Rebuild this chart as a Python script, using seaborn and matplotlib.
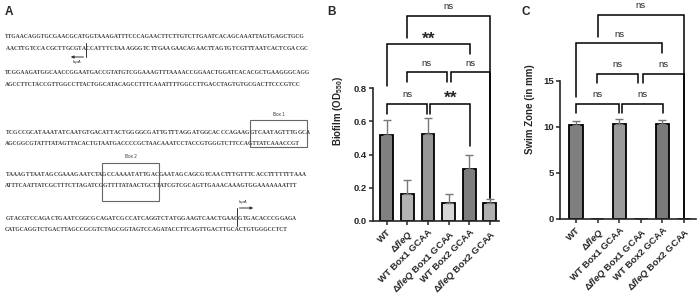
import matplotlib
matplotlib.use("Agg")
import matplotlib.pyplot as plt
import seaborn as sns
from matplotlib.patches import Rectangle

# ---- data ----
strains = ["WT", "ΔfleQ", "WT Box1 GCAA", "ΔfleQ Box1 GCAA", "WT Box2 GCAA", "ΔfleQ Box2 GCAA"]
tick_labels = ["WT", r"Δ$\mathit{fleQ}$", "WT Box1 GCAA", r"Δ$\mathit{fleQ}$ Box1 GCAA",
               "WT Box2 GCAA", r"Δ$\mathit{fleQ}$ Box2 GCAA"]

biofilm = [0.52, 0.165, 0.525, 0.11, 0.31, 0.11]
biofilm_err = [0.09, 0.08, 0.095, 0.05, 0.09, 0.02]
biofilm_colors = ["#808080", "#b3b3b3", "#969696", "#d6d6d6", "#7d7d7d", "#b0b0b0"]

swim = [10.2, 0.0, 10.3, 0.0, 10.3, 0.0]
swim_err = [0.5, 0.0, 0.55, 0.0, 0.5, 0.0]
swim_colors = ["#7f7f7f", "#b3b3b3", "#9a9a9a", "#d6d6d6", "#7a7a7a", "#b0b0b0"]

# brackets: (x1, x2, bar height, left end, right end, label)
biofilm_sig = [
    (0.0, 1.96, 0.704, 0.644, 0.644, "ns"),
    (2.12, 4.04, 0.704, 0.644, 0.45, "**"),
    (0.96, 2.92, 0.894, 0.834, 0.834, "ns"),
    (3.12, 5.0, 0.894, 0.834, 0.14, "ns"),
    (0.0, 4.04, 1.064, 0.814, 1.004, "**"),
    (1.0, 5.0, 1.234, 1.104, 0.14, "ns"),
]
swim_sig = [
    (0.0, 2.0, 12.5, 11.57, 11.57, "ns"),
    (2.11, 4.01, 12.5, 11.57, 11.57, "ns"),
    (0.99, 2.89, 15.76, 14.8, 14.8, "ns"),
    (3.09, 5.0, 15.76, 14.8, 0.1, "ns"),
    (0.0, 4.0, 19.08, 13.3, 18.0, "ns"),
    (1.0, 5.0, 22.15, 19.8, 0.1, "ns"),
]

# promoter sequence (top strands; bottom strands are the complements)
seq_top = [
    "TTGAACAGGTGCGAACGCATGGTAAAGATTTCCCAGAACTTCTTGTCTTGAATCACAGCAAATTAGTGAGCTGCG",
    "TCGGAAGATGGCAACCGGAATGACCGTATGTCGGAAAGTTTAAAACCGGAACTGGATCACACGCTGAAGGGCAGG",
    "TCGCCGCATAAATATCAATGTGACATTACTGGGGCGATTGTTTAGGATGGCACCCAGAAGGTCAATAGTTTGGCA",
    "TAAAGTTAATAGCGAAAGAATCTAGCCAAAATATTGACGAATAGCAGCGTCAACTTTGTTTCACCTTTTTTTAAA",
    "GTACGTCCAGACTGAATCGGCGCAGATCGCCATCAGGTCTATGGAAGTCAACTGAACGTGACACCCGGAGA",
]
row_y = [36, 73, 132, 174, 218]

sns.set_style("ticks")
plt.rcParams["font.family"] = ["Liberation Sans", "DejaVu Sans"]
plt.rcParams["mathtext.fontset"] = "custom"
plt.rcParams["mathtext.rm"] = "Liberation Serif:bold"
plt.rcParams["mathtext.bf"] = "Liberation Serif:bold"
plt.rcParams["mathtext.it"] = "Liberation Sans:italic:bold"
plt.rcParams["mathtext.sf"] = "Liberation Sans:bold"

fig = plt.figure(figsize=(7, 3), dpi=100)

# ---- panel A: annotated sequence ----
axA = fig.add_axes([0, 0, 1, 1])
axA.set_xlim(0, 700)
axA.set_ylim(300, 0)
axA.axis("off")

comp = str.maketrans("ACGT", "TGCA")
seq_fs = 4.05


def bold(s, start, n):
    return s[:start] + r"$\mathbf{" + s[start:start + n] + "}$" + s[start + n:]


bottoms = [s.translate(comp) for s in seq_top]
tops = list(seq_top)
bottoms[0] = bold(bottoms[0], 17, 3)
tops[4] = bold(tops[4], 57, 3)
tops[2] = bold(tops[2], 60, 1)
tops[3] = bold(tops[3], 24, 1)
for t, b, y in zip(tops, bottoms, row_y):
    axA.text(5, y, t, fontsize=seq_fs, family="Liberation Serif", fontweight="bold",
             color="#3a3a3a", va="center")
    axA.text(5, y + 11.5, b, fontsize=seq_fs, family="Liberation Serif", fontweight="bold",
             color="#3a3a3a", va="center")

axA.add_patch(Rectangle((250, 120), 57, 27, fill=False, ec="#666666", lw=0.8))
axA.add_patch(Rectangle((102, 163), 57, 38, fill=False, ec="#666666", lw=0.8))
axA.text(279, 115, "Box 1", fontsize=3.3, ha="center", va="center", color="#333333")
axA.text(131, 157, "Box 2", fontsize=3.3, ha="center", va="center", color="#333333")

axA.plot([86, 86], [43, 57], color="#333333", lw=0.7)
axA.annotate("", xy=(68, 57), xytext=(86.3, 57),
             arrowprops=dict(arrowstyle="-|>", lw=0.7, color="#333333", mutation_scale=4))
axA.text(77, 62.5, "lapA", fontsize=3.2, style="italic", ha="center", va="center", color="#333333")
axA.plot([237, 237], [226, 208], color="#333333", lw=0.7)
axA.annotate("", xy=(256, 208), xytext=(236.7, 208),
             arrowprops=dict(arrowstyle="-|>", lw=0.7, color="#333333", mutation_scale=4))
axA.text(243, 202, "lapA", fontsize=3.2, style="italic", ha="center", va="center", color="#333333")

for lab, x in [("A", 5), ("B", 327), ("C", 521)]:
    axA.text(x, 12, lab, fontsize=8.5, fontweight="bold", ha="left", va="center")


def draw_panel(ax, values, errs, colors, sig, ylim, ytop, yticks, yticklabels, ylabel, xlim):
    sns.barplot(x=strains, y=values, hue=strains, palette=colors, legend=False,
                edgecolor="black", linewidth=1.3, width=0.62, errorbar=None, ax=ax)
    ax.errorbar(range(len(values)), values, yerr=[[0] * len(values), errs], fmt="none",
                ecolor="#777777", elinewidth=1.0, capsize=3, capthick=1.0, zorder=1)
    ax.set_ylim(*ylim)
    ax.set_xlim(*xlim)
    ax.spines["left"].set_bounds(0, ytop)
    ax.spines["left"].set_linewidth(1.2)
    ax.spines["bottom"].set_linewidth(1.2)
    sns.despine(ax=ax)
    ax.set_yticks(yticks)
    ax.set_yticklabels(yticklabels, fontsize=6.8, fontweight="bold")
    ax.set_xticks(range(len(values)))
    ax.set_xticklabels(tick_labels, rotation=45, ha="right", rotation_mode="anchor",
                       fontsize=6.8, fontweight="bold")
    ax.tick_params(axis="both", width=1.1, length=3, pad=1.5)
    ax.set_xlabel("")
    ax.set_ylabel(ylabel, fontsize=7, fontweight="bold", labelpad=6)
    span = ylim[1]
    for x1, x2, h, e1, e2, label in sig:
        ax.plot([x1, x1, x2, x2], [e1, h, h, e2], color="black", lw=1.1, clip_on=False,
                solid_joinstyle="miter")
        if label == "ns":
            ax.text((x1 + x2) / 2, h + span * 0.022, label, ha="center", va="bottom", fontsize=6.8)
        else:
            ax.text((x1 + x2) / 2, h - span * 0.01, label, ha="center", va="bottom",
                    fontsize=12.5, fontweight="bold")


axB = fig.add_axes([373 / 700, 1 - 221 / 300, 126 / 700, 221 / 300])
draw_panel(axB, biofilm, biofilm_err, biofilm_colors, biofilm_sig, (0, 1.33), 0.8,
           [0, 0.2, 0.4, 0.6, 0.8], ["0.0", "0.2", "0.4", "0.6", "0.8"],
           r"Biofilm (OD$_{\mathsf{550}}$)", (-0.67, 5.45))

axC = fig.add_axes([560 / 700, 1 - 219 / 300, 136 / 700, 219 / 300])
draw_panel(axC, swim, swim_err, swim_colors, swim_sig, (0, 23.8), 15,
           [0, 5, 10, 15], ["0", "5", "10", "15"],
           "Swim Zone (in mm)", (-0.74, 5.55))

fig.savefig("out.png", dpi=100)
